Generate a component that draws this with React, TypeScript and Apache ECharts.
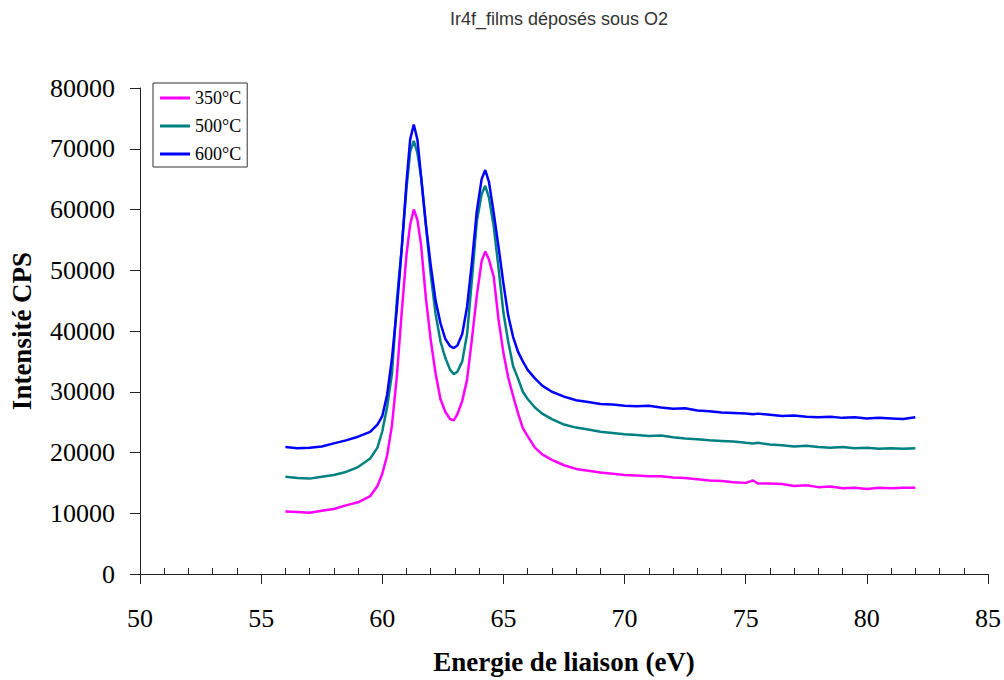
import React, { useEffect, useRef } from "react";
import * as echarts from "echarts";

const titleText = "Ir4f_films déposés sous O2";
const xName = "Energie de liaison (eV)";
const yName = "Intensité CPS";
const seriesNames = ["350°C", "500°C", "600°C"];
const seriesColors = ["#ff00ff", "#008080", "#0000ff"];

const energy = [
  56, 56.5, 57, 57.5, 58, 58.5, 59, 59.5, 59.8, 60,
  60.2, 60.4, 60.6, 60.8, 61, 61.15, 61.3, 61.45, 61.6, 61.8,
  62, 62.2, 62.4, 62.6, 62.8, 62.95, 63.1, 63.3, 63.5,
  63.7, 63.9, 64.1, 64.25, 64.4, 64.6, 64.8, 65,
  65.2, 65.4, 65.6, 65.8, 66, 66.3, 66.6, 67,
  67.5, 68, 68.5, 69, 69.5, 70,
  70.5, 71, 71.5, 72, 72.5, 73, 73.5, 74, 74.5, 75,
  75.3, 75.5, 76, 76.5, 77, 77.5, 78, 78.5, 79, 79.5, 80,
  80.5, 81, 81.5, 82,
];

const values350 = [
  10300, 10200, 10100, 10400, 10700, 11300, 11800, 12800, 14500, 16500,
  19500, 24500, 32500, 43000, 52600, 57500, 60000, 58300, 54200, 45400,
  38500, 33000, 28800, 26700, 25500, 25300, 26300, 28500, 32000,
  38700, 45800, 51500, 53100, 51800, 48900, 41800, 36400,
  32300, 29300, 26500, 24000, 22700, 20800, 19700, 18800,
  17900, 17300, 17000, 16700, 16500, 16300,
  16200, 16100, 16100, 15900, 15800, 15600, 15400, 15300, 15100, 15000,
  15400, 14900, 14900, 14800, 14500, 14600, 14300, 14400, 14100, 14200, 14000,
  14200, 14100, 14200, 14200,
];

const values500 = [
  16000, 15800, 15700, 16000, 16300, 16800, 17600, 19000, 20800, 23500,
  27500, 33000, 45000, 53500, 63500, 69500, 71300, 69300, 65400, 57400,
  49300, 42800, 38300, 35600, 33600, 32900, 33300, 35000, 39500,
  48500, 58000, 62500, 63900, 62000, 57200, 50300, 43000,
  38200, 34200, 32200, 30000, 28800, 27400, 26400, 25500,
  24600, 24100, 23800, 23400, 23200, 23000,
  22900, 22700, 22800, 22500, 22300, 22200, 22000, 21900, 21800, 21600,
  21500, 21600, 21300, 21200, 21000, 21100, 20900, 20800, 20900, 20700, 20800,
  20600, 20700, 20600, 20700,
];

const values600 = [
  20900, 20700, 20800, 21000, 21500, 22000, 22600, 23400, 24600, 26000,
  29500, 35500, 43600, 53500, 64500, 71500, 74000, 71500, 65500, 57500,
  50800, 45000, 41300, 38700, 37500, 37200, 37600, 39500, 44000,
  51300, 59700, 65000, 66500, 64600, 59400, 53800, 47800,
  42500, 39000, 36600, 35000, 33600, 32200, 31000, 30000,
  29200, 28600, 28300, 28000, 27900, 27700,
  27600, 27700, 27400, 27200, 27300, 26900, 26800, 26600, 26500, 26400,
  26300, 26400, 26200, 26000, 26100, 25900, 25800, 25900, 25700, 25800, 25600,
  25700, 25600, 25500, 25800,
];

const allValues = [values350, values500, values600];

const xMin = 50;
const xMax = 85;
const xInterval = 5;
const yMin = 0;
const yMax = 80000;
const yInterval = 10000;

export default function App() {
  const ref = useRef<HTMLDivElement>(null);

  useEffect(() => {
    if (!ref.current) return;
    const chart = echarts.init(ref.current, undefined, { renderer: "svg" });

    const minorTicks: number[] = [];
    for (let v = xMin; v <= xMax; v += 1) {
      if (v % xInterval !== 0) minorTicks.push(v);
    }

    const serif = "'Liberation Serif', 'Times New Roman', serif";
    const axisColor = "#222";

    chart.setOption({
      animation: false,
      backgroundColor: "#ffffff",
      title: {
        text: titleText,
        left: 450,
        top: 10,
        padding: 0,
        textStyle: {
          fontFamily: "'Liberation Sans', Arial, sans-serif",
          fontSize: 18,
          fontWeight: "normal",
          color: "#333",
        },
      },
      legend: {
        orient: "vertical",
        left: 153,
        top: 83,
        backgroundColor: "#fff",
        borderColor: "#333",
        borderWidth: 1,
        borderRadius: 0,
        padding: [6, 6, 4, 7],
        icon: "rect",
        itemWidth: 30,
        itemHeight: 3,
        itemGap: 10,
        data: seriesNames,
        textStyle: { fontFamily: serif, fontSize: 18, color: "#000" },
      },
      grid: { left: 140, right: 16, top: 88, bottom: 105, containLabel: false },
      xAxis: [
        {
          type: "value",
          min: xMin,
          max: xMax,
          interval: xInterval,
          position: "bottom",
          name: xName,
          nameLocation: "middle",
          nameGap: 74,
          nameTextStyle: { fontFamily: serif, fontSize: 27, fontWeight: "bold", color: "#000" },
          axisLine: { show: true, lineStyle: { color: axisColor, width: 1 } },
          axisTick: { show: true, inside: false, length: 10, lineStyle: { color: axisColor } },
          axisLabel: { margin: 31, fontFamily: serif, fontSize: 26, color: "#000" },
          splitLine: { show: false },
        },
        {
          type: "value",
          min: xMin,
          max: xMax,
          interval: 1,
          position: "bottom",
          offset: 0,
          axisLine: { show: false },
          axisTick: {
            show: true,
            inside: true,
            length: 6,
            customValues: minorTicks,
            lineStyle: { color: axisColor },
          },
          axisLabel: { show: false },
          splitLine: { show: false },
        },
      ],
      yAxis: {
        type: "value",
        min: yMin,
        max: yMax,
        interval: yInterval,
        name: yName,
        nameLocation: "middle",
        nameGap: 105,
        nameTextStyle: { fontFamily: serif, fontSize: 27, fontWeight: "bold", color: "#000" },
        axisLine: { show: true, lineStyle: { color: axisColor, width: 1 } },
        axisTick: { show: true, inside: false, length: 10, lineStyle: { color: axisColor } },
        axisLabel: {
          margin: 25,
          fontFamily: serif,
          fontSize: 26,
          color: "#000",
          formatter: (v: number) => String(v),
        },
        splitLine: { show: false },
      },
      series: seriesNames.map((name, i) => ({
        name,
        type: "line",
        xAxisIndex: 0,
        symbol: "none",
        smooth: false,
        color: seriesColors[i],
        lineStyle: { color: seriesColors[i], width: 2.5 },
        data: energy.map((e, k) => [e, allValues[i][k]]),
      })),
    });

    return () => chart.dispose();
  }, []);

  return (
    <div
      ref={ref}
      style={{ position: "fixed", left: 0, top: 0, width: 1004, height: 680 }}
    />
  );
}
